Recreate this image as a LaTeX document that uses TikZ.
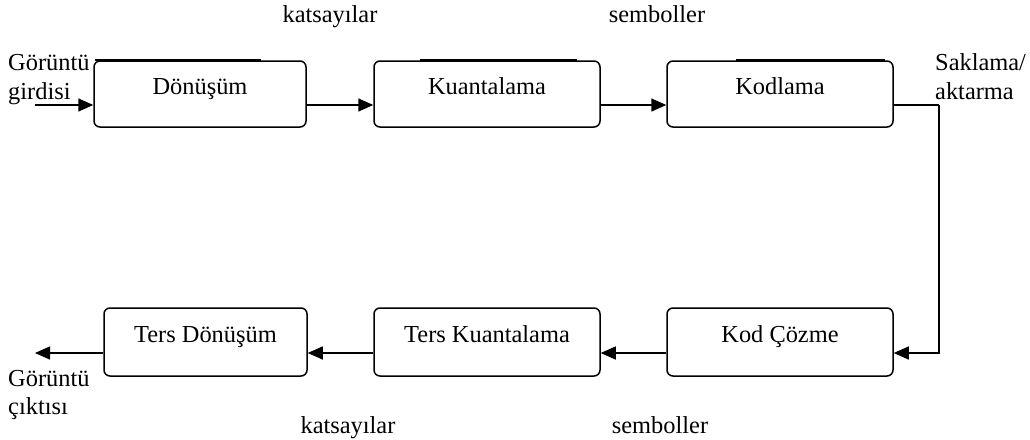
\documentclass[tikz,border=0pt]{standalone}
\usepackage{fontspec}
\setmainfont{Liberation Serif}
\usetikzlibrary{arrows.meta,calc}
\begin{document}
\begin{tikzpicture}[x=1pt,y=-1pt,
  every node/.style={font=\fontsize{24.4}{28}\selectfont},
  stage/.style={draw,line width=1.5pt,rounded corners=6pt,inner sep=0pt,
    text height=33pt,text depth=33pt},
  stagelow/.style={stage,text height=34pt,text depth=34pt},
  conn/.style={line width=1.5pt,-{Triangle[length=15pt,width=13pt]}},
  wire/.style={line width=1.5pt},
  lbl/.style={anchor=base,inner sep=0pt},
  lbll/.style={anchor=base west,inner sep=0pt,align=left},
  topline/.style={line width=1.3pt}]
\useasboundingbox (0,0) rectangle (1030,439);
% top row
\node[stage,minimum width=212pt] (d1) at (200,94) {Dönüşüm};
\node[stage,minimum width=226pt] (d2) at (487,94) {Kuantalama};
\node[stage,minimum width=226pt] (d3) at (780,94) {Kodlama};
% bottom row
\node[stagelow,minimum width=226pt] (b3) at (780,342) {Kod Çözme};
\node[stagelow,minimum width=226pt] (b2) at (487,342) {Ters Kuantalama};
\node[stagelow,minimum width=203pt] (b1) at (205.5,342) {Ters Dönüşüm};
% extra top strokes
\draw[topline] (95,60) -- (261,60);
\draw[topline] (420,60) -- (577,60);
\draw[topline] (736,60) -- (885,60);
% connectors
\coordinate (in) at (35,105);
\coordinate (out) at (35,353);
\coordinate (c1) at (939,105);
\coordinate (c2) at (939,353);
\draw[conn] (in) -- (in -| d1.west);
\draw[conn] ($(d1.east)+(0,11)$) -- ($(d2.west)+(0,11)$);
\draw[conn] ($(d2.east)+(0,11)$) -- ($(d3.west)+(0,11)$);
\draw[wire] ($(d3.east)+(0,11)$) -- (c1);
\draw[conn] (c1) -- (c2) -- (c2 -| b3.east);
\draw[conn] ($(b3.west)+(0,11)$) -- ($(b2.east)+(0,11)$);
\draw[conn] ($(b2.west)+(0,11)$) -- ($(b1.east)+(0,11)$);
\draw[conn] (out -| b1.west) -- (out);
% labels
\node[lbl] (k1) at (330,22) {katsayılar};
\node[lbl] (s1) at (657,22) {semboller};
\node[lbl] (k2) at (348,433) {katsayılar};
\node[lbl] (s2) at (660,433) {semboller};
\node[lbll] (g1) at (8,70) {Görüntü};
\node[lbll] (g2) at (8,99) {girdisi};
\node[lbll] (sa1) at (935,70) {Saklama/};
\node[lbll] (sa2) at (935,99) {aktarma};
\node[lbll] (o1) at (8,386) {Görüntü};
\node[lbll] (o2) at (8,414) {çıktısı};
\end{tikzpicture}
\end{document}
